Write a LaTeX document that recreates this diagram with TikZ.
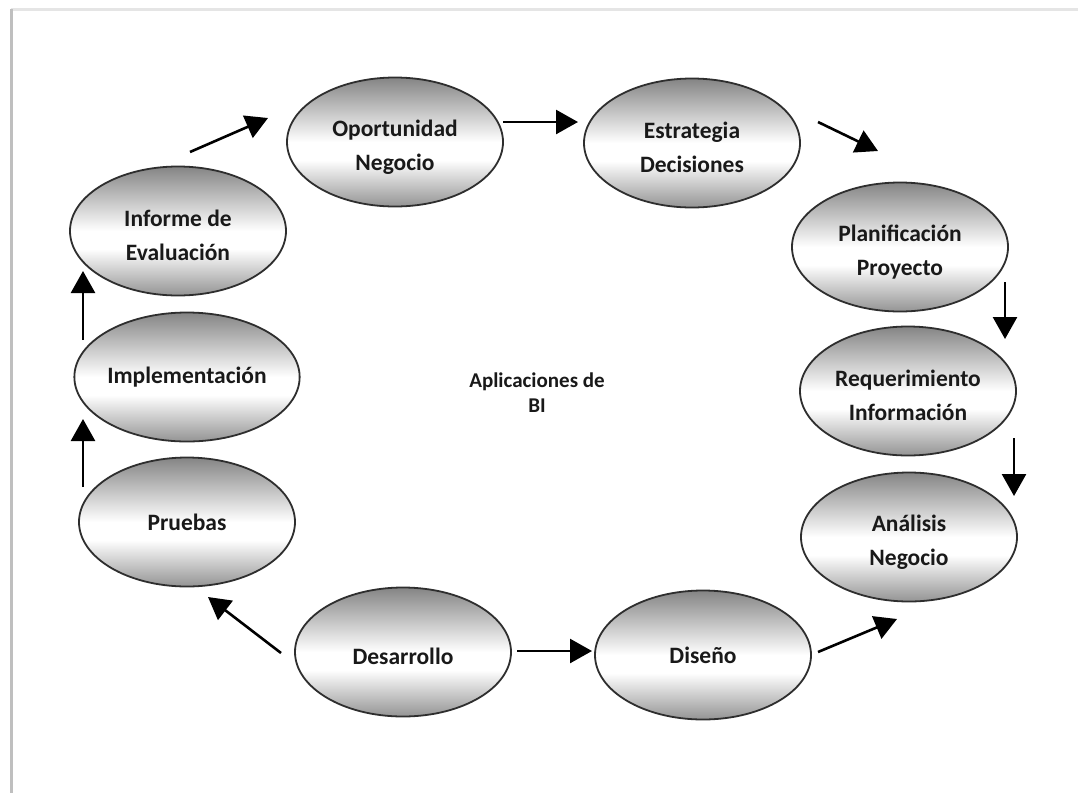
\documentclass[tikz,border=0pt]{standalone}
\usepackage{fontspec}
\setmainfont{Carlito}
\usetikzlibrary{arrows.meta,shapes.geometric}

\definecolor{shtop}{gray}{0.52}
\definecolor{shbot}{gray}{0.58}
\definecolor{rimcol}{gray}{0.18}
\definecolor{txtcol}{gray}{0.10}
% grey at the rims, white a little below the middle
\pgfdeclareverticalshading{ovalshade}{100bp}{%
  color(0bp)=(shbot); color(25bp)=(shbot); color(43bp)=(white);
  color(50bp)=(white); color(75bp)=(shtop); color(100bp)=(shtop)}

% invisible strut that lowers a label a little inside its oval
\newcommand\lowerlbl{\rule{0pt}{26pt}}

\tikzset{
  stage/.style={ellipse, draw=rimcol, line width=1.8pt, shading=ovalshade,
    minimum width=216pt, minimum height=129pt, inner sep=0pt, align=center,
    text=txtcol, font=\bfseries\fontsize{23.5}{34}\selectfont},
  flow/.style={line width=2.6pt, black,
    -{Triangle[length=22pt,width=24pt]}}
}

\begin{document}
\begin{tikzpicture}[x=1pt,y=-1pt]
\useasboundingbox (0,0) rectangle (1078,793);
\fill[white] (0,0) rectangle (1078,793);

% page frame
\draw[black!10, line width=2.5pt] (11,9.5) -- (1078,9.5);
\draw[black!25, line width=2.5pt] (11.5,9) -- (11.5,793);

% the stages of the cycle
\node[stage] (op) at (395,142) {\lowerlbl Oportunidad\\Negocio};
\node[stage] (es) at (692,143) {\lowerlbl Estrategia\\Decisiones};
\node[stage] (pl) at (900,247) {\lowerlbl Planificación\\Proyecto};
\node[stage] (rq) at (908,391) {\lowerlbl Requerimiento\\Información};
\node[stage] (an) at (909,537) {\lowerlbl Análisis\\Negocio};
\node[stage] (di) at (703,655) {Diseño};
\node[stage] (de) at (403,652) {\lowerlbl Desarrollo};
\node[stage] (pr) at (187,522) {Pruebas};
\node[stage] (im) at (187,377) {Implementación};
\node[stage] (ie) at (178,231) {\lowerlbl Informe de\\Evaluación};

\node[text=txtcol, align=center, font=\bfseries\fontsize{21}{25}\selectfont]
  (bi) at (537,393) {Aplicaciones de\\BI};

% arrow end points
\coordinate (a1s) at (190,152); \coordinate (a1e) at (268,118);
\coordinate (a2s) at (503,122); \coordinate (a2e) at (578,122);
\coordinate (a3s) at (818,122); \coordinate (a3e) at (878,151);
\coordinate (a4s) at (1005,282); \coordinate (a4e) at (1005,339);
\coordinate (a5s) at (1014,438); \coordinate (a5e) at (1014,496);
\coordinate (a6s) at (818,652); \coordinate (a6e) at (897,619);
\coordinate (a7s) at (517,651); \coordinate (a7e) at (592,651);
\coordinate (a8s) at (281,653); \coordinate (a8e) at (208,597);
\coordinate (a9s) at (83,487);  \coordinate (a9e) at (83,419);
\coordinate (a10s) at (83,340); \coordinate (a10e) at (83,271);

\draw[flow] (a1s) -- (a1e);
\draw[flow] (a2s) -- (a2e);
\draw[flow] (a3s) -- (a3e);
\draw[flow] (a4s) -- (a4e);
\draw[flow] (a5s) -- (a5e);
\draw[flow] (a6s) -- (a6e);
\draw[flow] (a7s) -- (a7e);
\draw[flow] (a8s) -- (a8e);
\draw[flow] (a9s) -- (a9e);
\draw[flow] (a10s) -- (a10e);
\end{tikzpicture}
\end{document}
